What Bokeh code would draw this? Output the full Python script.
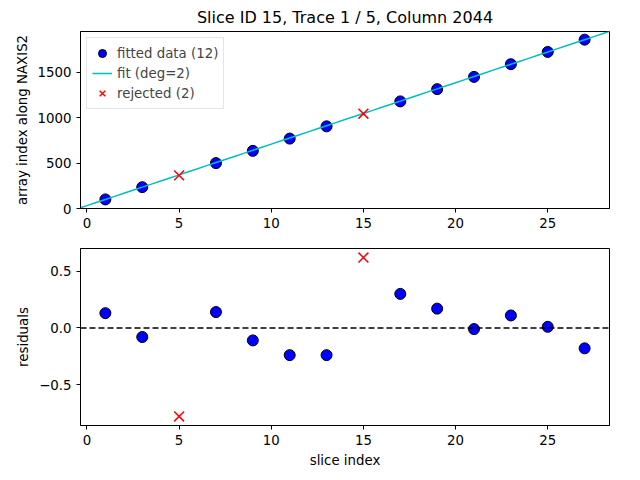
from bokeh.plotting import figure
from bokeh.layouts import column
from bokeh.embed import file_html
from bokeh.resources import INLINE
from bokeh.models import Range1d, Span, CustomJSTickFormatter
import numpy as np

fit_x = [1, 3, 7, 9, 11, 13, 17, 19, 21, 23, 25, 27]
fit_y = [100, 235, 500, 635, 770, 905, 1180, 1315, 1450, 1590, 1725, 1860]
rej_x = [5, 15]
rej_y = [365, 1045]
res_fit = [0.13, -0.08, 0.14, -0.11, -0.24, -0.24, 0.30, 0.17, -0.01, 0.11, 0.01, -0.18]
res_rej = [-0.78, 0.62]
coef = [0.0, 67.7, 32.0]  # deg=2 polynomial coefficients (highest first)

line_x = np.linspace(-0.5, 29, 60)
line_y = np.polyval(coef, line_x)
FONT = "DejaVu Sans"

def style(p):
    p.xgrid.visible = False
    p.ygrid.visible = False
    p.outline_line_color = "black"
    for ax in (p.xaxis, p.yaxis):
        ax.major_label_text_font_size = "10pt"
        ax.major_label_text_font = FONT
        ax.axis_label_text_font = FONT
        ax.axis_label_text_font_size = "10pt"
        ax.axis_label_text_font_style = "normal"
        ax.axis_label_text_color = "black"
        ax.minor_tick_line_color = None
        ax.major_label_text_color = "black"
        ax.major_tick_out = 4
        ax.major_tick_in = 0
    p.min_border_left = 80
    p.min_border_right = 15

p1 = figure(width=624, height=230, output_backend="svg", toolbar_location=None,
            title="Slice ID 15, Trace 1 / 5, Column 2044",
            x_range=Range1d(-0.35, 28.35), y_range=Range1d(0, 1950))
p1.title.align = "center"
p1.title.text_font_size = "12pt"
p1.title.text_font = FONT
p1.title.text_color = "black"
p1.title.text_font_style = "normal"
style(p1)
p1.min_border_top = 14
p1.yaxis.axis_label = "array index along NAXIS2"
p1.yaxis.ticker = [0, 500, 1000, 1500]
p1.xaxis.ticker = [0, 5, 10, 15, 20, 25]
p1.scatter(fit_x, fit_y, size=11, fill_color="blue", line_color="black", legend_label="fitted data (12)")
p1.line(line_x, line_y, color="#00bfbf", line_width=1.5, legend_label="fit (deg=2)")
p1.scatter(rej_x, rej_y, marker="x", size=14, line_color="red", line_width=1.5, legend_label="rejected (2)")
p1.legend.location = "top_left"
p1.legend.label_text_font_size = "10pt"
p1.legend.label_text_font = FONT
p1.legend.spacing = 0
p1.legend.padding = 5
p1.legend.margin = 6
p1.legend.border_line_color = "#cccccc"

p2 = figure(width=624, height=240, output_backend="svg", toolbar_location=None,
            x_range=p1.x_range, y_range=Range1d(-0.86, 0.7))
style(p2)
p2.min_border_top = 18
p2.yaxis.axis_label = "residuals"
p2.xaxis.axis_label = "slice index"
p2.yaxis.ticker = [-0.5, 0.0, 0.5]
p2.yaxis.formatter = CustomJSTickFormatter(code="return tick.toFixed(1).replace('-', '\u2212');")
p2.xaxis.ticker = [0, 5, 10, 15, 20, 25]
p2.add_layout(Span(location=0, dimension="width", line_dash="6 3", line_color="black", line_width=1.5))
p2.scatter(fit_x, res_fit, size=11, fill_color="blue", line_color="black")
p2.scatter(rej_x, res_rej, marker="x", size=14, line_color="red", line_width=1.5)

open("out.html", "w").write(file_html(column(p1, p2), INLINE))
